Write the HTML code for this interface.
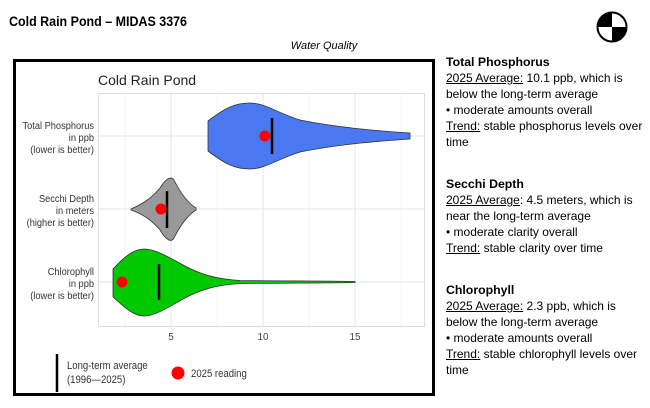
<!DOCTYPE html>
<html><head><meta charset="utf-8"><style>
body{margin:0;background:#fff;width:650px;height:408px;overflow:hidden;font-family:"Liberation Sans",Arial,sans-serif;}
.side{position:absolute;left:446px;font-size:12px;line-height:15.9px;color:#000;}
.side b{font-size:12.3px}
u{text-decoration:underline;}
</style></head><body>
<svg width="650" height="408" style="position:absolute;left:0;top:0" font-family="Liberation Sans, Arial, sans-serif">
<text x="9" y="26" font-size="13.5" font-weight="bold" textLength="178" lengthAdjust="spacingAndGlyphs">Cold Rain Pond – MIDAS 3376</text>
<text x="324" y="49" font-size="11" font-style="italic" text-anchor="middle">Water Quality</text>
<g transform="translate(612,27)">
<circle r="14.5" fill="#fff" stroke="#000" stroke-width="2"/>
<path d="M0 0 L14.5 0 A14.5 14.5 0 0 1 0 14.5Z" fill="#000"/>
<path d="M0 0 L-14.5 0 A14.5 14.5 0 0 1 0 -14.5Z" fill="#000"/>
</g>
<rect x="14.5" y="60.5" width="419" height="334" fill="none" stroke="#000" stroke-width="3"/>
<text x="98" y="85" font-size="14" fill="#222">Cold Rain Pond</text>
<rect x="98.5" y="93.5" width="326" height="233" fill="#fff" stroke="#ddd"/>
<g stroke="#efefef" stroke-width="0.7">
<line x1="125" y1="94" x2="125" y2="326"/><line x1="217" y1="94" x2="217" y2="326"/><line x1="309" y1="94" x2="309" y2="326"/><line x1="401" y1="94" x2="401" y2="326"/>
</g>
<g stroke="#e6e6e6" stroke-width="1">
<line x1="171" y1="94" x2="171" y2="326"/><line x1="263" y1="94" x2="263" y2="326"/><line x1="355" y1="94" x2="355" y2="326"/>
<line x1="99" y1="136" x2="424" y2="136"/><line x1="99" y1="209" x2="424" y2="209"/><line x1="99" y1="282" x2="424" y2="282"/>
</g>
<path d="M208 121 C225 108 235 103 250 103 C265 103 275 112 300 120 C340 128 380 131 410 133 L410 139 C380 141 340 144 300 152 C275 160 265 169 250 169 C235 169 225 164 208 151 Z" fill="#4a78f0" stroke="#333" stroke-width="0.8"/>
<path d="M131 209 C140 205 150 200 160 188 C166 178 171 176 174 180 C180 192 188 203 196 208 L196 210 C188 215 180 226 174 238 C171 243 166 240 160 230 C150 218 140 213 131 210 Z" fill="#999" stroke="#333" stroke-width="0.8"/>
<path d="M113 269 C125 256 134 249 144 249 C156 249 170 258 185 266 C200 274 215 279 240 280.5 C300 281 340 281 355 281.5 L355 282.5 C340 283 300 283 240 283.5 C215 285 200 290 185 298 C170 306 156 316 144 316 C134 316 125 308 113 297 Z" fill="#00c800" stroke="#333" stroke-width="0.8"/>
<g stroke="#000" stroke-width="2.5">
<line x1="272" y1="118" x2="272" y2="154"/><line x1="167" y1="191" x2="167" y2="228"/><line x1="159" y1="264" x2="159" y2="300"/>
</g>
<g fill="#f00"><circle cx="265" cy="136" r="5.5"/><circle cx="161" cy="209" r="5.5"/><circle cx="122" cy="282" r="5.5"/></g>
<g font-size="10.3" fill="#333" text-anchor="end" transform="translate(94,0) scale(0.9,1) translate(-94,0)">
<text x="94" y="129">Total Phosphorus</text><text x="94" y="141">in ppb</text><text x="94" y="153">(lower is better)</text>
<text x="94" y="202">Secchi Depth</text><text x="94" y="214">in meters</text><text x="94" y="226">(higher is better)</text>
<text x="94" y="275">Chlorophyll</text><text x="94" y="287">in ppb</text><text x="94" y="299">(lower is better)</text>
</g>
<g font-size="10" fill="#444" text-anchor="middle">
<text x="171" y="340">5</text><text x="263" y="340">10</text><text x="355" y="340">15</text>
</g>
<line x1="57" y1="354" x2="57" y2="392" stroke="#000" stroke-width="2.5"/>
<g transform="translate(67,0) scale(0.87,1) translate(-67,0)" font-size="11" fill="#333">
<text x="67" y="369">Long-term average</text>
<text x="67" y="383">(1996—2025)</text>
</g>
<circle cx="178" cy="373" r="6.5" fill="#f00"/>
<text x="191" y="377" font-size="11" fill="#333" transform="translate(191,0) scale(0.87,1) translate(-191,0)">2025 reading</text>
</svg>
<div class="side" style="top:55px"><b>Total Phosphorus</b><br><u>2025 Average:</u> 10.1 ppb, which is<br>below the long-term average<br>• moderate amounts overall<br><u>Trend:</u> stable phosphorus levels over<br>time</div>
<div class="side" style="top:177px"><b>Secchi Depth</b><br><u>2025 Average</u>: 4.5 meters, which is<br>near the long-term average<br>• moderate clarity overall<br><u>Trend:</u> stable clarity over time</div>
<div class="side" style="top:283px"><b>Chlorophyll</b><br><u>2025 Average:</u> 2.3 ppb, which is<br>below the long-term average<br>• moderate amounts overall<br><u>Trend:</u> stable chlorophyll levels over<br>time</div>
</body></html>
